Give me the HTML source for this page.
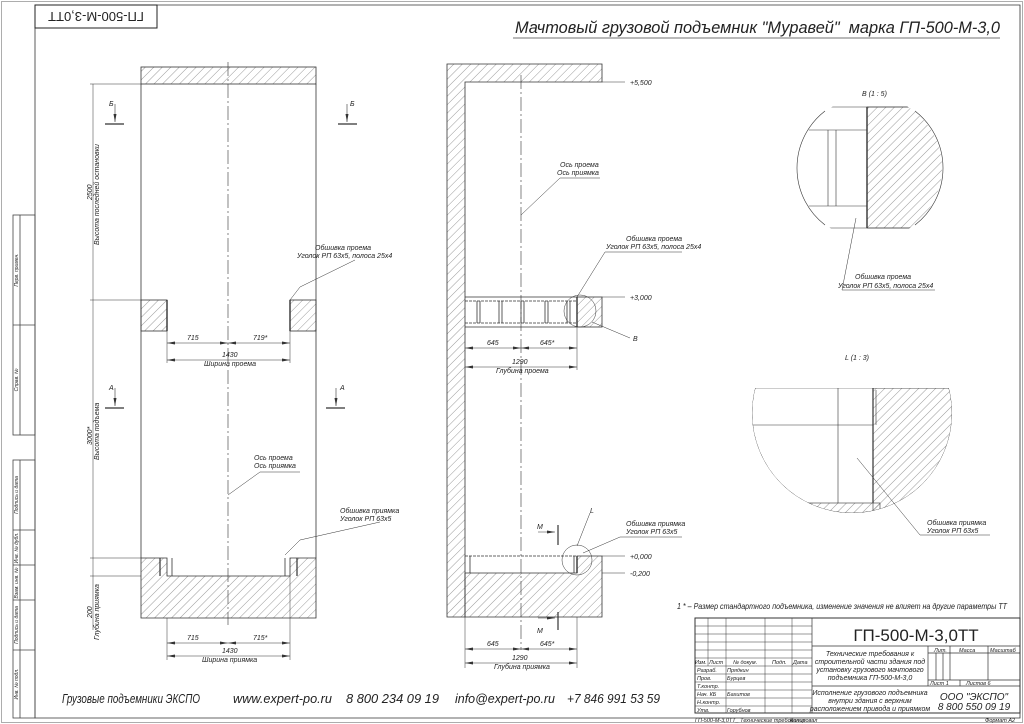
<!DOCTYPE html>
<html><head><meta charset="utf-8"><style>
html,body{margin:0;padding:0;background:#fff;}
svg{display:block;}
text{font-family:"Liberation Sans",sans-serif;font-style:italic;fill:#222;stroke:none;}
</style></head><body>
<svg width="1024" height="724" viewBox="0 0 1024 724" xmlns="http://www.w3.org/2000/svg">
<defs>
<pattern id="h" width="6" height="6" patternUnits="userSpaceOnUse" patternTransform="rotate(45)">
<line x1="0" y1="0" x2="0" y2="6" stroke="#555" stroke-width="0.6"/>
</pattern>
<marker id="a" markerWidth="8" markerHeight="6" refX="8" refY="3" orient="auto-start-reverse" markerUnits="userSpaceOnUse"><path d="M0,1.5 L8,3 L0,4.5z" fill="#333" stroke="none"/></marker>
<clipPath id="cB"><circle cx="870" cy="168" r="72"/></clipPath>
<clipPath id="cL"><circle cx="852" cy="413" r="100"/></clipPath>
<clipPath id="cLr"><rect x="700" y="388" width="320" height="200"/></clipPath>
</defs>
<g fill="none" stroke="#444" stroke-width="0.8">
<rect x="1.5" y="1.5" width="1021" height="721" stroke="#999"/>
<polyline points="35,5 1020,5 1020,718 35,718 35,5" stroke="#333"/>
<rect x="35" y="5" width="122" height="23" stroke="#222" stroke-width="1"/>
<rect x="13" y="215" width="22" height="220"/>
<line x1="13" y1="325" x2="35" y2="325"/><line x1="20" y1="215" x2="20" y2="435"/>
<rect x="13" y="460" width="22" height="258"/>
<line x1="13" y1="530" x2="35" y2="530"/><line x1="13" y1="565" x2="35" y2="565"/><line x1="13" y1="600" x2="35" y2="600"/><line x1="13" y1="650" x2="35" y2="650"/><line x1="20" y1="460" x2="20" y2="718"/>
<line x1="513" y1="38" x2="1000" y2="38"/>
</g>
<text x="96" y="22" font-size="13" style="font-style:normal" text-anchor="middle" transform="rotate(180 96 17)">ГП-500-М-3,0ТТ</text>
<g font-size="5">
<text transform="translate(18,270) rotate(-90)" text-anchor="middle">Перв. примен.</text>
<text transform="translate(18,380) rotate(-90)" text-anchor="middle">Справ. №</text>
<text transform="translate(18,495) rotate(-90)" text-anchor="middle">Подпись и дата</text>
<text transform="translate(18,548) rotate(-90)" text-anchor="middle">Инв. № дубл.</text>
<text transform="translate(18,583) rotate(-90)" text-anchor="middle">Взам. инв. №</text>
<text transform="translate(18,625) rotate(-90)" text-anchor="middle">Подпись и дата</text>
<text transform="translate(18,684) rotate(-90)" text-anchor="middle">Инв. № подл.</text>
</g>
<text x="515" y="33" font-size="17" textLength="485" lengthAdjust="spacingAndGlyphs" xml:space="preserve">Мачтовый грузовой подъемник "Муравей"  марка ГП-500-М-3,0</text>

<!-- LEFT VIEW -->
<g stroke="#333" stroke-width="0.8" fill="none">
<rect x="141" y="67" width="175" height="17" fill="url(#h)"/>
<line x1="141" y1="84" x2="141" y2="558"/><line x1="316" y1="84" x2="316" y2="558"/>
<rect x="141" y="300" width="26" height="31" fill="url(#h)"/>
<rect x="290" y="300" width="26" height="31" fill="url(#h)"/>
<line x1="167" y1="300" x2="167" y2="331" stroke-width="1.4"/><line x1="290" y1="300" x2="290" y2="331" stroke-width="1.4"/>
<path d="M141,558 H167 V576 H290 V558 H316 V618 H141 Z" fill="url(#h)"/>
<line x1="160" y1="558" x2="160" y2="576" stroke-width="1.2"/><line x1="297" y1="558" x2="297" y2="576" stroke-width="1.2"/>
<line x1="172" y1="558" x2="172" y2="576"/><line x1="285" y1="558" x2="285" y2="576"/>
<line x1="228" y1="62" x2="228" y2="625" stroke-dasharray="14,3,2,3" stroke-width="0.6"/>
<g stroke-width="0.5">
<line x1="167" y1="331" x2="167" y2="363"/><line x1="290" y1="331" x2="290" y2="363"/>
<line x1="167" y1="343" x2="228" y2="343" marker-start="url(#a)" marker-end="url(#a)"/>
<line x1="228" y1="343" x2="290" y2="343" marker-start="url(#a)" marker-end="url(#a)"/>
<line x1="167" y1="360" x2="290" y2="360" marker-start="url(#a)" marker-end="url(#a)"/>
<line x1="167" y1="618" x2="167" y2="660"/><line x1="290" y1="576" x2="290" y2="660"/>
<line x1="167" y1="643" x2="228" y2="643" marker-start="url(#a)" marker-end="url(#a)"/>
<line x1="228" y1="643" x2="290" y2="643" marker-start="url(#a)" marker-end="url(#a)"/>
<line x1="167" y1="656" x2="290" y2="656" marker-start="url(#a)" marker-end="url(#a)"/>
<line x1="90" y1="84" x2="141" y2="84"/><line x1="90" y1="300" x2="141" y2="300"/><line x1="90" y1="558" x2="141" y2="558"/><line x1="90" y1="576" x2="141" y2="576"/>
<line x1="93" y1="84" x2="93" y2="300"/><line x1="93" y1="300" x2="93" y2="558"/><line x1="93" y1="558" x2="93" y2="630"/>
<polyline points="290,300 300,287 355,260"/>
<polyline points="228,495 260,472 300,472"/>
<polyline points="285,555 300,540 380,522"/>
</g>
<g stroke-width="1.2">
<line x1="105" y1="124" x2="124" y2="124"/><line x1="338" y1="124" x2="357" y2="124"/>
<line x1="105" y1="408" x2="124" y2="408"/><line x1="326" y1="408" x2="345" y2="408"/>
<line x1="115" y1="104" x2="115" y2="122" stroke-width="0.6" marker-end="url(#a)"/>
<line x1="347" y1="104" x2="347" y2="122" stroke-width="0.6" marker-end="url(#a)"/>
<line x1="115" y1="388" x2="115" y2="406" stroke-width="0.6" marker-end="url(#a)"/>
<line x1="336" y1="388" x2="336" y2="406" stroke-width="0.6" marker-end="url(#a)"/>
</g>
</g>
<g font-size="7">
<text x="109" y="106">Б</text><text x="350" y="106">Б</text><text x="109" y="390">А</text><text x="340" y="390">А</text>
<text x="187" y="340">715</text><text x="253" y="340">719*</text>
<text x="222" y="357">1430</text><text x="204" y="366">Ширина проема</text>
<text x="187" y="640">715</text><text x="253" y="640">715*</text>
<text x="222" y="653">1430</text><text x="202" y="662">Ширина приямка</text>
<text x="254" y="460">Ось проема</text><text x="254" y="468">Ось приямка</text>
<text x="315" y="250">Обшивка проема</text><text x="297" y="258">Уголок РП 63х5, полоса 25х4</text>
<text x="340" y="513">Обшивка приямка</text><text x="340" y="521">Уголок РП 63х5</text>
<text transform="translate(92,200) rotate(-90)">2500</text>
<text transform="translate(99,245) rotate(-90)">Высота последней остановки</text>
<text transform="translate(92,445) rotate(-90)">3000*</text>
<text transform="translate(99,460) rotate(-90)">Высота подъема</text>
<text transform="translate(92,618) rotate(-90)">200</text>
<text transform="translate(99,640) rotate(-90)">Глубина приямка</text>
</g>

<!-- RIGHT VIEW -->
<g stroke="#333" stroke-width="0.8" fill="none">
<path d="M447,64 H602 V82 H465 V617 H447 Z" fill="url(#h)"/>
<rect x="577" y="297" width="25" height="30" fill="url(#h)"/>
<line x1="577" y1="297" x2="577" y2="327" stroke-width="1.4"/>
<line x1="465" y1="297" x2="577" y2="297"/><line x1="465" y1="301" x2="577" y2="301" stroke-dasharray="3,1"/>
<line x1="465" y1="323" x2="577" y2="323" stroke-dasharray="3,1"/><line x1="465" y1="327" x2="577" y2="327"/>
<line x1="477" y1="301" x2="477" y2="323"/><line x1="480" y1="301" x2="480" y2="323"/>
<line x1="499" y1="301" x2="499" y2="323"/><line x1="502" y1="301" x2="502" y2="323"/>
<line x1="521" y1="301" x2="521" y2="323"/><line x1="524" y1="301" x2="524" y2="323"/>
<line x1="545" y1="301" x2="545" y2="323"/><line x1="548" y1="301" x2="548" y2="323"/>
<line x1="567" y1="301" x2="567" y2="323"/><line x1="570" y1="301" x2="570" y2="323"/>
<circle cx="580" cy="311" r="16" stroke-width="0.5"/>
<path d="M465,573 H577 V556 H602 V617 H465 Z" fill="url(#h)"/>
<line x1="465" y1="556" x2="577" y2="556" stroke-dasharray="3,1"/><line x1="470" y1="556" x2="470" y2="573"/>
<line x1="577" y1="556" x2="577" y2="573" stroke-width="1.4"/><line x1="574" y1="556" x2="574" y2="573"/>
<circle cx="577" cy="560" r="15" stroke-width="0.5"/>
<line x1="521" y1="75" x2="521" y2="650" stroke-dasharray="14,3,2,3" stroke-width="0.6"/>
<g stroke-width="0.5">
<line x1="602" y1="82" x2="625" y2="82"/><line x1="602" y1="297" x2="625" y2="297"/>
<line x1="602" y1="556" x2="625" y2="556"/><line x1="602" y1="573" x2="625" y2="573"/>
<line x1="577" y1="327" x2="577" y2="370"/>
<line x1="465" y1="348" x2="521" y2="348" marker-start="url(#a)" marker-end="url(#a)"/>
<line x1="521" y1="348" x2="577" y2="348" marker-start="url(#a)" marker-end="url(#a)"/>
<line x1="465" y1="367" x2="577" y2="367" marker-start="url(#a)" marker-end="url(#a)"/>
<line x1="465" y1="617" x2="465" y2="668"/><line x1="577" y1="617" x2="577" y2="668"/>
<line x1="465" y1="649" x2="521" y2="649" marker-start="url(#a)" marker-end="url(#a)"/>
<line x1="521" y1="649" x2="577" y2="649" marker-start="url(#a)" marker-end="url(#a)"/>
<line x1="465" y1="663" x2="577" y2="663" marker-start="url(#a)" marker-end="url(#a)"/>
<polyline points="521,215 560,178 600,178"/>
<polyline points="577,297 605,252 682,252"/>
<polyline points="592,322 630,338"/>
<polyline points="583,553 620,537 682,537"/>
<polyline points="577,546 590,513"/>
<line x1="538" y1="532" x2="555" y2="532" marker-end="url(#a)"/><line x1="558" y1="525" x2="558" y2="545" stroke-width="1.2"/>
<line x1="538" y1="618" x2="555" y2="618" marker-end="url(#a)"/><line x1="558" y1="612" x2="558" y2="630" stroke-width="1.2"/>
</g>
</g>
<g font-size="7">
<text x="630" y="85">+5,500</text><text x="630" y="300">+3,000</text><text x="630" y="559">+0,000</text><text x="630" y="576">-0,200</text>
<text x="560" y="167">Ось проема</text><text x="557" y="175">Ось приямка</text>
<text x="626" y="241">Обшивка проема</text><text x="606" y="249">Уголок РП 63х5, полоса 25х4</text>
<text x="633" y="341">В</text><text x="590" y="513">L</text>
<text x="626" y="526">Обшивка приямка</text><text x="626" y="534">Уголок РП 63х5</text>
<text x="537" y="529">М</text><text x="537" y="633">М</text>
<text x="487" y="345">645</text><text x="540" y="345">645*</text>
<text x="512" y="364">1290</text><text x="496" y="373">Глубина проема</text>
<text x="487" y="646">645</text><text x="540" y="646">645*</text>
<text x="512" y="660">1290</text><text x="494" y="669">Глубина приямка</text>
</g>

<!-- DETAIL B -->
<text x="862" y="96" font-size="7">В (1 : 5)</text>
<g stroke="#333" stroke-width="0.6" fill="none">
<g clip-path="url(#cB)">
<rect x="867" y="107" width="100" height="121" fill="url(#h)"/>
<line x1="700" y1="107" x2="960" y2="107"/><line x1="700" y1="228" x2="960" y2="228"/>
<line x1="700" y1="130" x2="867" y2="130"/><line x1="700" y1="206" x2="867" y2="206"/>
<line x1="828" y1="130" x2="828" y2="206"/><line x1="836" y1="130" x2="836" y2="206"/>
<line x1="867" y1="107" x2="867" y2="228" stroke-width="1.4"/>
</g>
<path d="M825,111 A72,72 0 0 0 825,225"/><path d="M915,111 A72,72 0 0 1 915,225"/>
<polyline points="856,218 842,290 935,290" stroke-width="0.5"/>
</g>
<text x="855" y="279" font-size="7">Обшивка проема</text>
<text x="838" y="288" font-size="7">Уголок РП 63х5, полоса 25х4</text>

<!-- DETAIL L -->
<text x="845" y="360" font-size="7">L (1 : 3)</text>
<g stroke="#333" stroke-width="0.6" fill="none">
<g clip-path="url(#cLr)"><g clip-path="url(#cL)">
<rect x="873" y="388" width="100" height="140" fill="url(#h)"/>
<rect x="740" y="503" width="140" height="30" fill="url(#h)"/>
<line x1="740" y1="388" x2="960" y2="388"/>
<line x1="740" y1="425" x2="873" y2="425"/>
<line x1="838" y1="388" x2="838" y2="503"/>
<line x1="873" y1="388" x2="873" y2="503" stroke-width="1.2"/>
<line x1="876" y1="390" x2="876" y2="425"/>
<circle cx="852" cy="413" r="100" stroke-width="0.5"/>
</g></g>
<polyline points="857,458 920,535 990,535" stroke-width="0.5"/>
</g>
<text x="927" y="525" font-size="7">Обшивка приямка</text>
<text x="927" y="533" font-size="7">Уголок РП 63х5</text>

<text x="677" y="609" font-size="8" textLength="330" lengthAdjust="spacingAndGlyphs">1 * – Размер стандартного подъемника, изменение значения не влияет на другие параметры ТТ</text>

<!-- TITLE BLOCK -->
<g stroke="#333" stroke-width="0.7" fill="none">
<rect x="695" y="618" width="325" height="95" stroke-width="1"/>
<line x1="812" y1="618" x2="812" y2="713"/>
<line x1="812" y1="646" x2="1020" y2="646"/><line x1="812" y1="686" x2="1020" y2="686"/>
<line x1="928" y1="646" x2="928" y2="686"/>
<line x1="928" y1="653" x2="1020" y2="653"/><line x1="928" y1="680" x2="1020" y2="680"/>
<line x1="950" y1="646" x2="950" y2="680"/><line x1="988" y1="646" x2="988" y2="680"/>
<line x1="936" y1="653" x2="936" y2="680"/><line x1="943" y1="653" x2="943" y2="680"/>
<line x1="960" y1="680" x2="960" y2="686"/>
<g stroke-width="0.5">
<line x1="695" y1="626" x2="812" y2="626"/><line x1="695" y1="634" x2="812" y2="634"/><line x1="695" y1="642" x2="812" y2="642"/><line x1="695" y1="650" x2="812" y2="650"/>
<line x1="695" y1="658" x2="812" y2="658"/><line x1="695" y1="666" x2="812" y2="666"/><line x1="695" y1="674" x2="812" y2="674"/><line x1="695" y1="682" x2="812" y2="682"/>
<line x1="695" y1="690" x2="812" y2="690"/><line x1="695" y1="698" x2="812" y2="698"/><line x1="695" y1="706" x2="812" y2="706"/>
<line x1="708" y1="618" x2="708" y2="666"/><line x1="726" y1="618" x2="726" y2="713"/><line x1="765" y1="618" x2="765" y2="713"/><line x1="792" y1="618" x2="792" y2="713"/>
</g>
</g>
<text x="916" y="641" font-size="17" text-anchor="middle" style="font-style:normal">ГП-500-М-3,0ТТ</text>
<g font-size="5.5">
<text x="695" y="664">Изм.</text><text x="709" y="664">Лист</text><text x="733" y="664">№ докум.</text><text x="772" y="664">Подп.</text><text x="793" y="664">Дата</text>
<text x="697" y="672">Разраб.</text><text x="727" y="672">Прядкин</text>
<text x="697" y="680">Пров.</text><text x="727" y="680">Бурцев</text>
<text x="697" y="688">Т.контр.</text>
<text x="697" y="696">Нач. КБ</text><text x="727" y="696">Бахитов</text>
<text x="697" y="704">Н.контр.</text>
<text x="697" y="712">Утв.</text><text x="727" y="712">Горубнов</text>
<text x="934" y="652">Лит.</text><text x="959" y="652">Масса</text><text x="990" y="652">Масштаб</text>
<text x="930" y="685">Лист 1</text><text x="966" y="685">Листов 6</text>
</g>
<g font-size="7" text-anchor="middle">
<text x="870" y="656">Технические требования к</text>
<text x="870" y="664">строительной части здания под</text>
<text x="870" y="672">установку грузового мачтового</text>
<text x="870" y="680">подъемника ГП-500-М-3,0</text>
<text x="870" y="695">Исполнение грузового подъемника</text>
<text x="870" y="703">внутри здания с верхним</text>
<text x="870" y="711">расположением привода и приямком</text>
</g>
<text x="974" y="700" font-size="10" text-anchor="middle">ООО "ЭКСПО"</text>
<text x="974" y="710" font-size="10" text-anchor="middle">8 800 550 09 19</text>
<text x="695" y="722" font-size="5.5">ГП-500-М-3,0ТТ_ Технические требования</text>
<text x="790" y="722" font-size="5.5">Копировал</text>
<text x="985" y="722" font-size="5.5">Формат А2</text>

<g font-size="13">
<text x="62" y="703" textLength="138" lengthAdjust="spacingAndGlyphs">Грузовые подъемники ЭКСПО</text>
<text x="233" y="703" textLength="99" lengthAdjust="spacingAndGlyphs">www.expert-po.ru</text>
<text x="346" y="703" textLength="93" lengthAdjust="spacingAndGlyphs">8 800 234 09 19</text>
<text x="455" y="703" textLength="100" lengthAdjust="spacingAndGlyphs">info@expert-po.ru</text>
<text x="567" y="703" textLength="93" lengthAdjust="spacingAndGlyphs">+7 846 991 53 59</text>
</g>
</svg>
</body></html>
